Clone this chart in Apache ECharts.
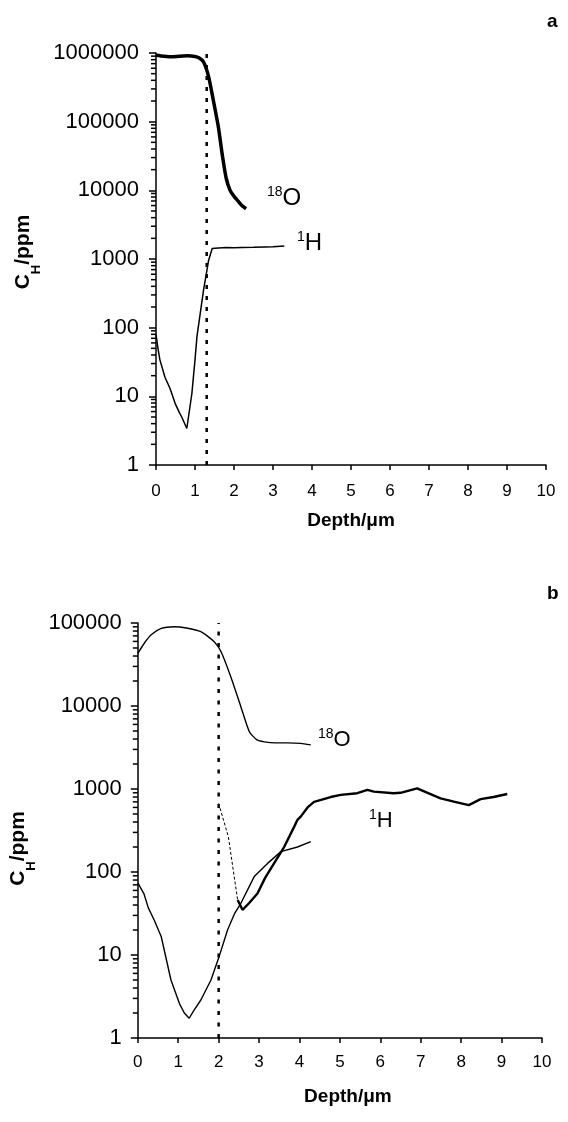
<!DOCTYPE html>
<html><head><meta charset="utf-8">
<script src="https://cdn.jsdelivr.net/npm/echarts@6/dist/echarts.min.js"></script>
<style>html,body{margin:0;padding:0;background:#fff}#c{width:568px;height:1122px}</style>
</head><body><div id="c"></div>
<script>
// ---------- Data ----------
// Panel a
const aO18Depth = [0, 0.2, 0.4, 0.6, 0.8, 1.0, 1.1, 1.22, 1.35, 1.47, 1.6, 1.71, 1.8, 1.9, 2.0, 2.1, 2.2, 2.31];
const aO18Conc  = [930000, 900000, 880000, 900000, 910000, 890000, 850000, 740000, 450000, 205000, 83000, 30000, 15000, 10000, 8200, 7000, 6000, 5400];
const aHDepth = [0, 0.05, 0.1, 0.23, 0.36, 0.49, 0.6, 0.66, 0.79, 0.92, 1.0, 1.05, 1.22, 1.35, 1.44, 1.6, 1.8, 2.0, 2.2, 2.5, 2.8, 3.0, 3.29];
const aHConc  = [80, 50, 34, 19, 13, 7.9, 5.8, 5, 3.4, 11, 34, 74, 355, 960, 1420, 1450, 1470, 1460, 1470, 1480, 1500, 1510, 1540];
const aBoundary = 1.3;
// Panel b
const bO18Depth = [0, 0.16, 0.33, 0.58, 0.9, 1.2, 1.56, 1.89, 2.06, 2.3, 2.55, 2.76, 2.95, 3.13, 3.4, 3.7, 4.03, 4.28];
const bO18Conc  = [43000, 57000, 72000, 86000, 90000, 87000, 78500, 59500, 45000, 22500, 9800, 4900, 3900, 3700, 3600, 3600, 3550, 3400];
const bHDepth = [0, 0.04, 0.15, 0.26, 0.41, 0.58, 0.82, 1.03, 1.15, 1.27, 1.4, 1.56, 1.81, 2.01, 2.22, 2.4, 2.55, 2.88, 3.21, 3.54, 3.95, 4.28];
const bHConc  = [74, 73, 55, 37, 26, 16.6, 5, 2.6, 2.0, 1.73, 2.2, 2.87, 5, 9.5, 20, 32, 42, 88, 127, 176, 200, 232];
const bH2DropDepth = [2.0, 2.24, 2.47];
const bH2DropConc  = [670, 266, 46];
const bH2Depth = [2.47, 2.59, 2.75, 2.96, 3.15, 3.37, 3.62, 3.87, 3.95, 4.03, 4.2, 4.36, 4.77, 5.02, 5.43, 5.68, 5.84, 6.33, 6.5, 6.91, 7.33, 7.49, 7.82, 8.19, 8.48, 8.8, 9.14];
const bH2Conc  = [46, 35, 42, 55, 85, 127, 200, 352, 425, 465, 600, 700, 800, 850, 890, 975, 930, 890, 900, 1020, 830, 770, 705, 640, 755, 800, 870];
const bBoundary = 2.0;
// Axes
const depthMin = 0, depthMax = 10, depthStep = 1;
const aConcMin = 1, aConcMax = 1000000;
const bConcMin = 1, bConcMax = 100000;
const minorMantissas = [2, 3, 4, 5, 6, 7, 8, 9];

// ---------- Build ----------
const FONT = '"Liberation Sans", Arial, sans-serif';
const zip = (xs, ys) => xs.map((x, i) => [x, ys[i]]);

function xAxis(idx, margin, nameGap, namePad) {
  return {
    gridIndex: idx, type: 'value', min: depthMin, max: depthMax, interval: depthStep,
    splitLine: { show: false },
    axisLine: { onZero: false, lineStyle: { color: '#000', width: 1.5 } },
    axisTick: { inside: false, length: 5, lineStyle: { color: '#000', width: 1.5 } },
    axisLabel: { color: '#000', fontSize: 17, fontFamily: FONT, margin },
    name: 'Depth/μm', nameLocation: 'middle', nameGap,
    nameTextStyle: { color: '#000', fontSize: 19, fontWeight: 'bold', fontFamily: FONT, padding: namePad }
  };
}
function yAxis(idx, min, max, split, margin, nameGap, namePad) {
  return {
    gridIndex: idx, type: 'log', logBase: 10, min, max, splitNumber: split,
    splitLine: { show: false },
    axisLine: { onZero: false, lineStyle: { color: '#000', width: 1.5 } },
    axisTick: { inside: false, length: 7, lineStyle: { color: '#000', width: 1.5 } },
    minorTick: { show: false },
    axisLabel: { color: '#000', fontSize: 22, fontFamily: FONT, margin,
                 formatter: v => String(Math.round(v)) },
    name: '{m|C}{s|H}{m|/ppm}', nameLocation: 'middle', nameGap,
    nameTextStyle: {
      color: '#000', fontFamily: FONT, padding: namePad,
      rich: {
        m: { fontSize: 21, fontWeight: 'bold', fontFamily: FONT, color: '#000', lineHeight: 26 },
        s: { fontSize: 13, fontWeight: 'bold', fontFamily: FONT, color: '#000', lineHeight: 26, verticalAlign: 'bottom', padding: [0, 0, -6, 0] }
      }
    }
  };
}

const lineStyle = (w, type) => ({ color: '#000', width: w, type: type || 'solid' });
function line(idx, xs, ys, w, type, smooth) {
  return { type: 'line', xAxisIndex: idx, yAxisIndex: idx, data: zip(xs, ys), showSymbol: false,
           smooth: smooth || false, lineStyle: lineStyle(w, type), silent: true, z: 3 };
}

const supRich = (big) => ({
  s: { fontSize: 14, fontFamily: FONT, verticalAlign: 'top', lineHeight: 26, fill: '#000' },
  b: { fontSize: big, fontFamily: FONT, lineHeight: 26, fill: '#000' }
});
const baseGraphic = [
  { type: 'text', x: 547, y: 22, style: { text: 'a', font: 'bold 19px ' + FONT, fill: '#000', verticalAlign: 'middle' } },
  { type: 'text', x: 547, y: 594, style: { text: 'b', font: 'bold 19px ' + FONT, fill: '#000', verticalAlign: 'middle' } },
  { type: 'text', x: 267, y: 198, style: { text: '{s|18}{b|O}', fill: '#000', verticalAlign: 'middle', rich: supRich(24) } },
  { type: 'text', x: 297, y: 243, style: { text: '{s|1}{b|H}', fill: '#000', verticalAlign: 'middle', rich: supRich(24) } },
  { type: 'text', x: 318, y: 740, style: { text: '{s|18}{b|O}', fill: '#000', verticalAlign: 'middle', rich: supRich(22) } },
  { type: 'text', x: 369, y: 821, style: { text: '{s|1}{b|H}', fill: '#000', verticalAlign: 'middle', rich: supRich(22) } }
];

const chart = echarts.init(document.getElementById('c'), null, { renderer: 'canvas' });
chart.setOption({
  animation: false,
  backgroundColor: '#fff',
  grid: [
    { left: 156, right: 22, top: 53, height: 412 },
    { left: 137, right: 26, top: 623, height: 415 }
  ],
  xAxis: [xAxis(0, 18, 46, [0, 0, 0, 0]), xAxis(1, 16, 49, [0, 0, 0, 16])],
  yAxis: [yAxis(0, aConcMin, aConcMax, 6, 17, 114, [0, 0, 0, 14]), yAxis(1, bConcMin, bConcMax, 5, 16, 89, [0, 36, 0, 0])],
  series: [
    line(0, aO18Depth, aO18Conc, 3.5, null, 0.2),
    line(0, aHDepth, aHConc, 1.5),
    line(0, [aBoundary, aBoundary], [aConcMin, aConcMax], 2.5, [4, 7]),
    line(1, bO18Depth, bO18Conc, 1.4, null, 0.2),
    line(1, bHDepth, bHConc, 1.4),
    line(1, bH2DropDepth, bH2DropConc, 1, [3, 2]),
    line(1, bH2Depth, bH2Conc, 2.4),
    line(1, [bBoundary, bBoundary], [bConcMin, bConcMax], 2.5, [4, 7.5])
  ],
  graphic: baseGraphic
});

// Minor log ticks (2..9 of every decade), positioned through the axis scales
const extra = [];
[[0, aConcMin, aConcMax], [1, bConcMin, bConcMax]].forEach(([idx, lo, hi]) => {
  const px = chart.convertToPixel({ xAxisIndex: idx }, depthMin);
  for (let d = Math.round(Math.log10(lo)); d < Math.round(Math.log10(hi)); d++) {
    minorMantissas.forEach(m => {
      const py = chart.convertToPixel({ yAxisIndex: idx }, m * Math.pow(10, d));
      extra.push({ type: 'line', silent: true, z: 100,
        shape: { x1: px - 5, y1: py, x2: px, y2: py },
        style: { stroke: '#000', lineWidth: 1.5 } });
    });
  }
});
chart.setOption({ graphic: baseGraphic.concat(extra) });
</script>
</body></html>
